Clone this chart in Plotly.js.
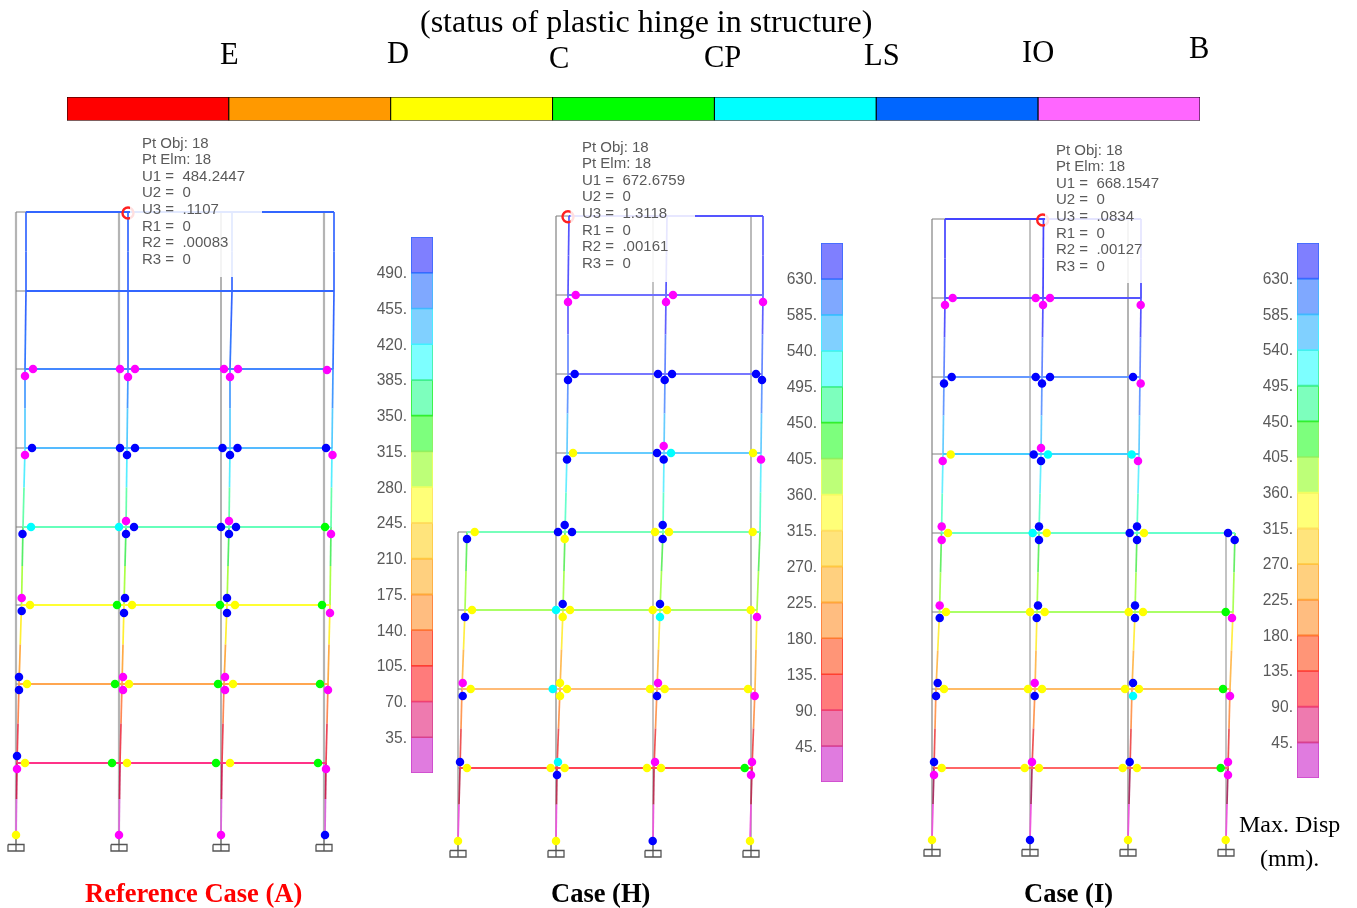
<!DOCTYPE html>
<html><head><meta charset="utf-8">
<script src="https://cdn.plot.ly/plotly-3.0.1.min.js"></script>
<style>html,body{margin:0;padding:0;background:#fff;overflow:hidden}#c{width:1357px;height:908px}
.cartesianlayer .subplot.xy,.cartesianlayer .subplot.x2y2,.cartesianlayer .subplot.x3y3,.cartesianlayer .subplot.x4y4,.soft-text{filter:blur(0.45px)}</style>
</head><body><div id="c"></div>
<script>
// ---------- hinge-status strip ----------
const stateNames = ['E','D','C','CP','LS','IO','B'];
const stateColours = ['#ff0000','#ff9900','#ffff00','#00ff00','#00ffff','#0066ff','#ff66ff'];
const stateLabelX = [229,398,559,722,882,1038,1199];
const stateLabelY = [53.5,52.5,57.5,57,55,51.5,47.5];

// ---------- displacement scales (mm) ----------
const scaleEdgesA = [0,35,70,105,140,175,210,245,280,315,350,385,420,455,490,525];
const scaleEdgesHI = [0,45,90,135,180,225,270,315,360,405,450,495,540,585,630,675];
const scaleFill = ['#e07bdf','#ee7aaf','#ff7b7b','#ff9577','#ffbd80','#ffd07f','#ffe47c','#ffff78','#bdff78','#7dff7d','#7dffbd','#7dffff','#80d0ff','#7fa8ff','#7f7fff'];
const scaleEdge = ['#cc44cc','#d8408f','#f04070','#ff4030','#ff7a30','#ffa838','#ffc840','#ffe060','#f0ff60','#90f060','#30f030','#40f0a0','#40f0ff','#40b8ff','#3868ff'];

// ---------- frame geometry ----------
const floorsA = [212,291,369,448,527,605,684,763,835];
const floorsH = [216,295,374,453,532,610,689,768,841];
const floorsI = [219,298,377,454,533,612,689,768,840];

const restA = [16,119,221,324];
const restH = [458,556,653,751];
const restI = [932,1030,1128,1226];

const bentA1 = [26,26,25,25,23,21.5,19,17,16];
const bentA2 = [128,128,128,127,126,124,122,120,119];
const bentA3 = [232,232,230,230,229,227,224,222,221];
const bentA4 = [334,334,333,332,331,330,328,326,325];
const bentH1 = [null,null,null,null,467,465,462,460,458];
const bentH2 = [569,568,568,567,565,563,560,557,556];
const bentH3 = [667,666,665,664,663,660,657,654,653];
const bentH4 = [763,763,762,761,760,757,755,752,750];
const bentI1 = [945,945,944,943,941.5,939.5,936,934,932];
const bentI2 = [1043.5,1043,1042,1041,1039,1037,1035,1032,1030];
const bentI3 = [1141,1141,1140,1139,1137,1135,1132,1130,1128];
const bentI4 = [null,null,null,null,1235,1233,1230,1228,1226];

const beamColoursA = ['#3366ff','#3366ff','#4488ff','#55bbff','#66ffbb','#ffff33','#ffa650','#ff3388'];
const beamColoursH = ['#5555ff','#7070ff','#7777ff','#66ccff','#77ffbb','#aaff66','#ffbb77','#ff4455'];
const beamColoursI = ['#4444ff','#5555ff','#6699ff','#44ccff','#66ffcc','#aaff66','#ffbb66','#ff6666'];

const storeyColoursA = ['#3366ff','#3366ff','#3366ff','#3377ff','#4499ff','#55ccff','#55eeff','#66ffaa','#55ee66','#aaff44','#ffee33','#ffaa44','#ff8855','#ee4455','#cc2255','#dd66dd'];
const storeyColoursH = ['#5555ff','#5555ff','#6060ff','#6688ff','#6699ff','#66ccff','#66eeff','#66ffcc','#66ee66','#aaff55','#ffee44','#ffbb55','#ff9955','#ee5555','#bb3355','#ee55dd'];
const storeyColoursI = ['#4444ff','#4444ff','#5555ff','#6688ff','#6699ff','#66ccff','#66eeff','#66ffcc','#66ee66','#aaff55','#ffee44','#ffbb55','#ff9955','#ee5555','#aa3366','#ee55dd'];

// ---------- hinges, [x, y] ----------
const hingesA_magenta = [[33,369],[25,376],[120,369],[135,369],[128,377],[224,369],[238,369],[230,377],[327,370],[25,455],[332.5,455],[126,521],[229,521],[331,534],[21.7,598],[330,613],[123,677],[123,690],[225,677],[225,690],[328,690],[17,769],[326,769],[119,835],[221,835]];
const hingesA_blue = [[32,448],[120,448],[135,448],[127,455],[222.5,448],[237.5,448],[230,455],[326,448],[22.5,534],[134,527],[126,534],[221,527],[236,527],[229,534],[21.7,611],[125,598],[124,613],[227,598],[227,613],[19,677],[19,690],[17,756],[325,835]];
const hingesA_cyan = [[31,527],[119,527]];
const hingesA_green = [[325,527],[117,605],[220,605],[322,605],[115,684],[218,684],[320,684],[112,763],[216,763],[318,763]];
const hingesA_yellow = [[30,605],[132,605],[235,605],[27,684],[129,684],[233,684],[25,763],[127,763],[230,763],[16,835]];

const hingesH_magenta = [[575.7,295],[568,302],[673,295],[666,302],[763,302],[663.7,446],[761,459.5],[757,617],[462.7,683],[658,683],[754.7,696],[655,762],[752,762],[751,775]];
const hingesH_blue = [[574.7,374],[568,380],[658,374],[672,374],[664.7,380],[756,374],[762,380],[567,459.5],[657,453],[663.7,459.5],[467,539],[558,532],[572,532],[564.7,525],[662.7,525],[662.7,539],[465,617],[562.7,604],[660,604],[462.7,696],[657,696],[460,762],[557,775],[652.7,841]];
const hingesH_cyan = [[671,453],[556,610],[660,617],[552.7,689],[558,762]];
const hingesH_green = [[744.7,768]];
const hingesH_yellow = [[573,453],[753,453],[474.7,532],[564.7,539],[655,532],[669,532],[752.7,532],[472,610],[570,610],[562.7,617],[652.7,610],[667,610],[750.7,610],[470.7,689],[560,683],[560,696],[567,689],[650,689],[664.7,689],[748,689],[467,768],[550.7,768],[564.7,768],[647,768],[661,768],[458,841],[556,841],[750,841]];

const hingesI_magenta = [[952.7,298],[945,305],[1035.7,298],[1050,298],[1043,305],[1140.7,305],[1140.7,383.5],[942.7,461],[1041,448],[1138,461],[941.7,526.5],[941.7,540],[939.7,605.5],[1232,618],[1034.7,683],[1230,696],[934,775],[1032,762],[1228,762],[1228,775]];
const hingesI_blue = [[951.7,377],[944,383.5],[1035.7,377],[1050,377],[1042,383.5],[1133,377],[1033.7,454.5],[1041,461],[1039,526.5],[1039,540],[1129.7,533],[1137,526.5],[1137,540],[1228,533],[1234.7,540],[939.7,618],[1038,605.5],[1036.7,618],[1135,605.5],[1135,618],[937.7,683],[936,696],[1034.7,696],[1133,683],[934,762],[1129.7,762],[1030,840]];
const hingesI_cyan = [[1048,454.5],[1131.7,454.5],[1032.7,533],[1133,696]];
const hingesI_green = [[1225.7,612],[1223,689],[1220.7,768]];
const hingesI_yellow = [[950.7,454.5],[948,533],[1046.7,533],[1144,533],[946,612],[1030,612],[1044.7,612],[1128.7,612],[1143,612],[944,689],[1028,689],[1042,689],[1125,689],[1139,689],[941.7,768],[1024.7,768],[1039,768],[1122.7,768],[1137,768],[932,840],[1128,840],[1225.7,840]];

// ---------- point-information boxes ----------
const infoA = ['Pt Obj: 18','Pt Elm: 18','U1 =  484.2447','U2 =  0','U3 =  .1107','R1 =  0','R2 =  .00083','R3 =  0'];
const infoH = ['Pt Obj: 18','Pt Elm: 18','U1 =  672.6759','U2 =  0','U3 =  1.3118','R1 =  0','R2 =  .00161','R3 =  0'];
const infoI = ['Pt Obj: 18','Pt Elm: 18','U1 =  668.1547','U2 =  0','U3 =  .0834','R1 =  0','R2 =  .00127','R3 =  0'];

// ---------- assembly ----------
const W = 1357, H = 908;
const serif = 'Liberation Serif', sans = 'Liberation Sans';
const hingeHues = {magenta:'#ff00ff', blue:'#0000ff', cyan:'#00ffff', green:'#00ff00', yellow:'#ffff00'};
const greyThick = '#b4b4b4', greyThin = '#808080';

const panels = [
 {floors:floorsA, rest:restA, bent:[bentA1,bentA2,bentA3,bentA4], beams:beamColoursA, storeys:storeyColoursA,
  restWidth:[2.2,2.2,1.2,2.2], restColour:[greyThick,greyThick,greyThin,greyThick],
  hinges:{magenta:hingesA_magenta,blue:hingesA_blue,cyan:hingesA_cyan,green:hingesA_green,yellow:hingesA_yellow},
  info:infoA, infoX:142, infoY:142, ring:[128,213], veil:[130,262,205,277]},
 {floors:floorsH, rest:restH, bent:[bentH1,bentH2,bentH3,bentH4], beams:beamColoursH, storeys:storeyColoursH,
  restWidth:[1.8,2,1.6,1.8], restColour:[greyThick,greyThick,greyThick,greyThick],
  hinges:{magenta:hingesH_magenta,blue:hingesH_blue,cyan:hingesH_cyan,green:hingesH_green,yellow:hingesH_yellow},
  info:infoH, infoX:582, infoY:146, ring:[568,216.7], veil:[570.5,695,208,282]},
 {floors:floorsI, rest:restI, bent:[bentI1,bentI2,bentI3,bentI4], beams:beamColoursI, storeys:storeyColoursI,
  restWidth:[2,1.6,2,1.6], restColour:[greyThick,greyThick,greyThick,greyThick],
  hinges:{magenta:hingesI_magenta,blue:hingesI_blue,cyan:hingesI_cyan,green:hingesI_green,yellow:hingesI_yellow},
  info:infoI, infoX:1056, infoY:149, ring:[1042.7,220], veil:[1045,1146,210,283]}
];

const traces = [], annotations = [], shapes = [];
const line = (xs,ys,colour,width)=>traces.push({type:'scatter',mode:'lines',x:xs,y:ys,xaxis:'x',yaxis:'y',
  line:{color:colour,width:width,simplify:false},hoverinfo:'skip',showlegend:false});
const text = (x,y,str,font,anchor)=>annotations.push({x,y,xref:'x',yref:'y',text:str,showarrow:false,
  xanchor:anchor||'center',yanchor:'middle',font,borderpad:0,borderwidth:0});

panels.forEach(p=>{
  const last = p.floors.length-1;
  // undeformed frame
  p.rest.forEach((x,c)=>{
    const first = p.bent[c].findIndex(v=>v!==null);
    line([x,x],[p.floors[first],p.floors[last]],p.restColour[c],p.restWidth[c]);
  });
  p.floors.slice(0,last).forEach((y,f)=>{
    const act = p.rest.filter((x,c)=>p.bent[c][f]!==null);
    line([act[0],act[act.length-1]],[y,y],greyThin,1);
  });
  // supports
  p.rest.forEach(x=>{
    const b = p.floors[last];
    line([x-8,x+8,x+8,x-8,x-8,null,x,x],[b+9.5,b+9.5,b+16,b+16,b+9.5,null,b+2,b+16],'#555555',1.3);
  });
  // deformed columns: two colours per storey
  p.bent.forEach(col=>{
    for(let f=0;f<last;f++){
      if(col[f]===null) continue;
      const mx=(col[f]+col[f+1])/2, my=(p.floors[f]+p.floors[f+1])/2;
      line([col[f],mx],[p.floors[f],my],p.storeys[2*f],1.7);
      line([mx,col[f+1]],[my,p.floors[f+1]],p.storeys[2*f+1],1.7);
    }
  });
  // deformed beams
  p.beams.forEach((colour,f)=>{
    const xs = p.bent.map(c=>c[f]).filter(v=>v!==null);
    line([xs[0],xs[xs.length-1]],[p.floors[f],p.floors[f]],colour,1.8);
  });
  // hinges
  Object.keys(p.hinges).forEach(k=>{
    traces.push({type:'scatter',mode:'markers',x:p.hinges[k].map(q=>q[0]),y:p.hinges[k].map(q=>q[1]),
      xaxis:'x',yaxis:'y',marker:{color:hingeHues[k],size:8.5,line:{width:0}},hoverinfo:'skip',showlegend:false});
  });
  // selected-joint ring
  traces.push({type:'scatter',mode:'markers',x:[p.ring[0]],y:[p.ring[1]],xaxis:'x',yaxis:'y',
    marker:{symbol:'circle-open',size:11,color:'#ff2020',line:{width:2.4,color:'#ff2020'}},hoverinfo:'skip',showlegend:false});
  // translucent info box
  shapes.push({type:'rect',xref:'x',yref:'y',x0:p.veil[0],x1:p.veil[1],y0:p.veil[2],y1:p.veil[3],
    fillcolor:'rgba(255,255,255,0.86)',line:{width:0},layer:'above'});
  p.info.forEach((s,i)=>text(p.infoX,p.infoY+i*16.6,s.replace(/ /g,'\u00a0'),{family:sans,size:15,color:'#5a5a5a'},'left'));
});
const softCount = annotations.length;

// displacement scales on their own axes
function scaleBar(edges,ax,left,right,top,bottom,layout){
  traces.push({type:'bar',orientation:'v',xaxis:'x'+ax,yaxis:'y'+ax,
    x:scaleFill.map(()=>0.5),base:edges.slice(0,-1),y:edges.slice(1).map((e,i)=>e-edges[i]),width:1,
    marker:{color:scaleFill,line:{color:scaleEdge,width:1.6}},hoverinfo:'skip',showlegend:false,cliponaxis:false});
  layout['xaxis'+ax]={domain:[left/W,right/W],range:[0,1],visible:false,anchor:'y'+ax,fixedrange:true};
  const ticks = edges.slice(1,-1);
  layout['yaxis'+ax]={domain:[(H-bottom)/H,(H-top)/H],range:[edges[0],edges[edges.length-1]],anchor:'x'+ax,
    tickmode:'array',tickvals:ticks,ticktext:ticks.map(v=>v+'.'),ticks:'',showgrid:false,zeroline:false,showline:false,
    ticklabelshift:1.5,ticklabelstandoff:3,tickfont:{family:sans,size:15.6,color:'#5a5a5a'},fixedrange:true};
}

const layout = {
  width:W,height:H,margin:{l:0,r:0,t:0,b:0},paper_bgcolor:'#fff',plot_bgcolor:'rgba(0,0,0,0)',showlegend:false,bargap:0,barmode:'overlay',
  xaxis:{domain:[0,1],range:[0,W],visible:false,fixedrange:true},
  yaxis:{domain:[0,1],range:[H,0],visible:false,fixedrange:true},
  annotations,shapes
};
scaleBar(scaleEdgesA,2,411,433,237,773,layout);
scaleBar(scaleEdgesHI,3,821,843,243,782,layout);
scaleBar(scaleEdgesHI,4,1297,1319,243,778,layout);

// hinge-status strip
traces.push({type:'bar',orientation:'h',xaxis:'x5',yaxis:'y5',y:stateNames.map(()=>0.5),
  base:stateNames.map((s,i)=>i),x:stateNames.map(()=>1),width:1,
  marker:{color:stateColours,line:{color:'#000',width:1}},hoverinfo:'skip',showlegend:false,cliponaxis:false});
layout.xaxis5={domain:[67/W,1200/W],range:[0,7],visible:false,anchor:'y5',fixedrange:true};
layout.yaxis5={domain:[(H-120.5)/H,(H-97)/H],range:[0,1],visible:false,anchor:'x5',fixedrange:true};

stateNames.forEach((s,i)=>text(stateLabelX[i],stateLabelY[i],s,{family:serif,size:30.5,color:'#000'}));
text(646,21,'(status of plastic hinge in structure)',{family:serif,size:32,color:'#000'});
text(193.5,892.5,'<b>Reference Case (A)</b>',{family:serif,size:26.5,color:'#ff0000'});
text(600,892.5,'<b>Case (H)</b>',{family:serif,size:26.5,color:'#000'});
text(1068,892.5,'<b>Case (I)</b>',{family:serif,size:26.5,color:'#000'});
text(1289,824,'Max. Disp',{family:serif,size:24,color:'#000'});
text(1289,858,'(mm).',{family:serif,size:24,color:'#000'});

Plotly.newPlot('c',traces,layout,{displayModeBar:false,staticPlot:true}).then(gd=>{
  gd.querySelectorAll('.annotation').forEach((el,i)=>{ if(i<softCount) el.classList.add('soft-text'); });
});
</script></body></html>
